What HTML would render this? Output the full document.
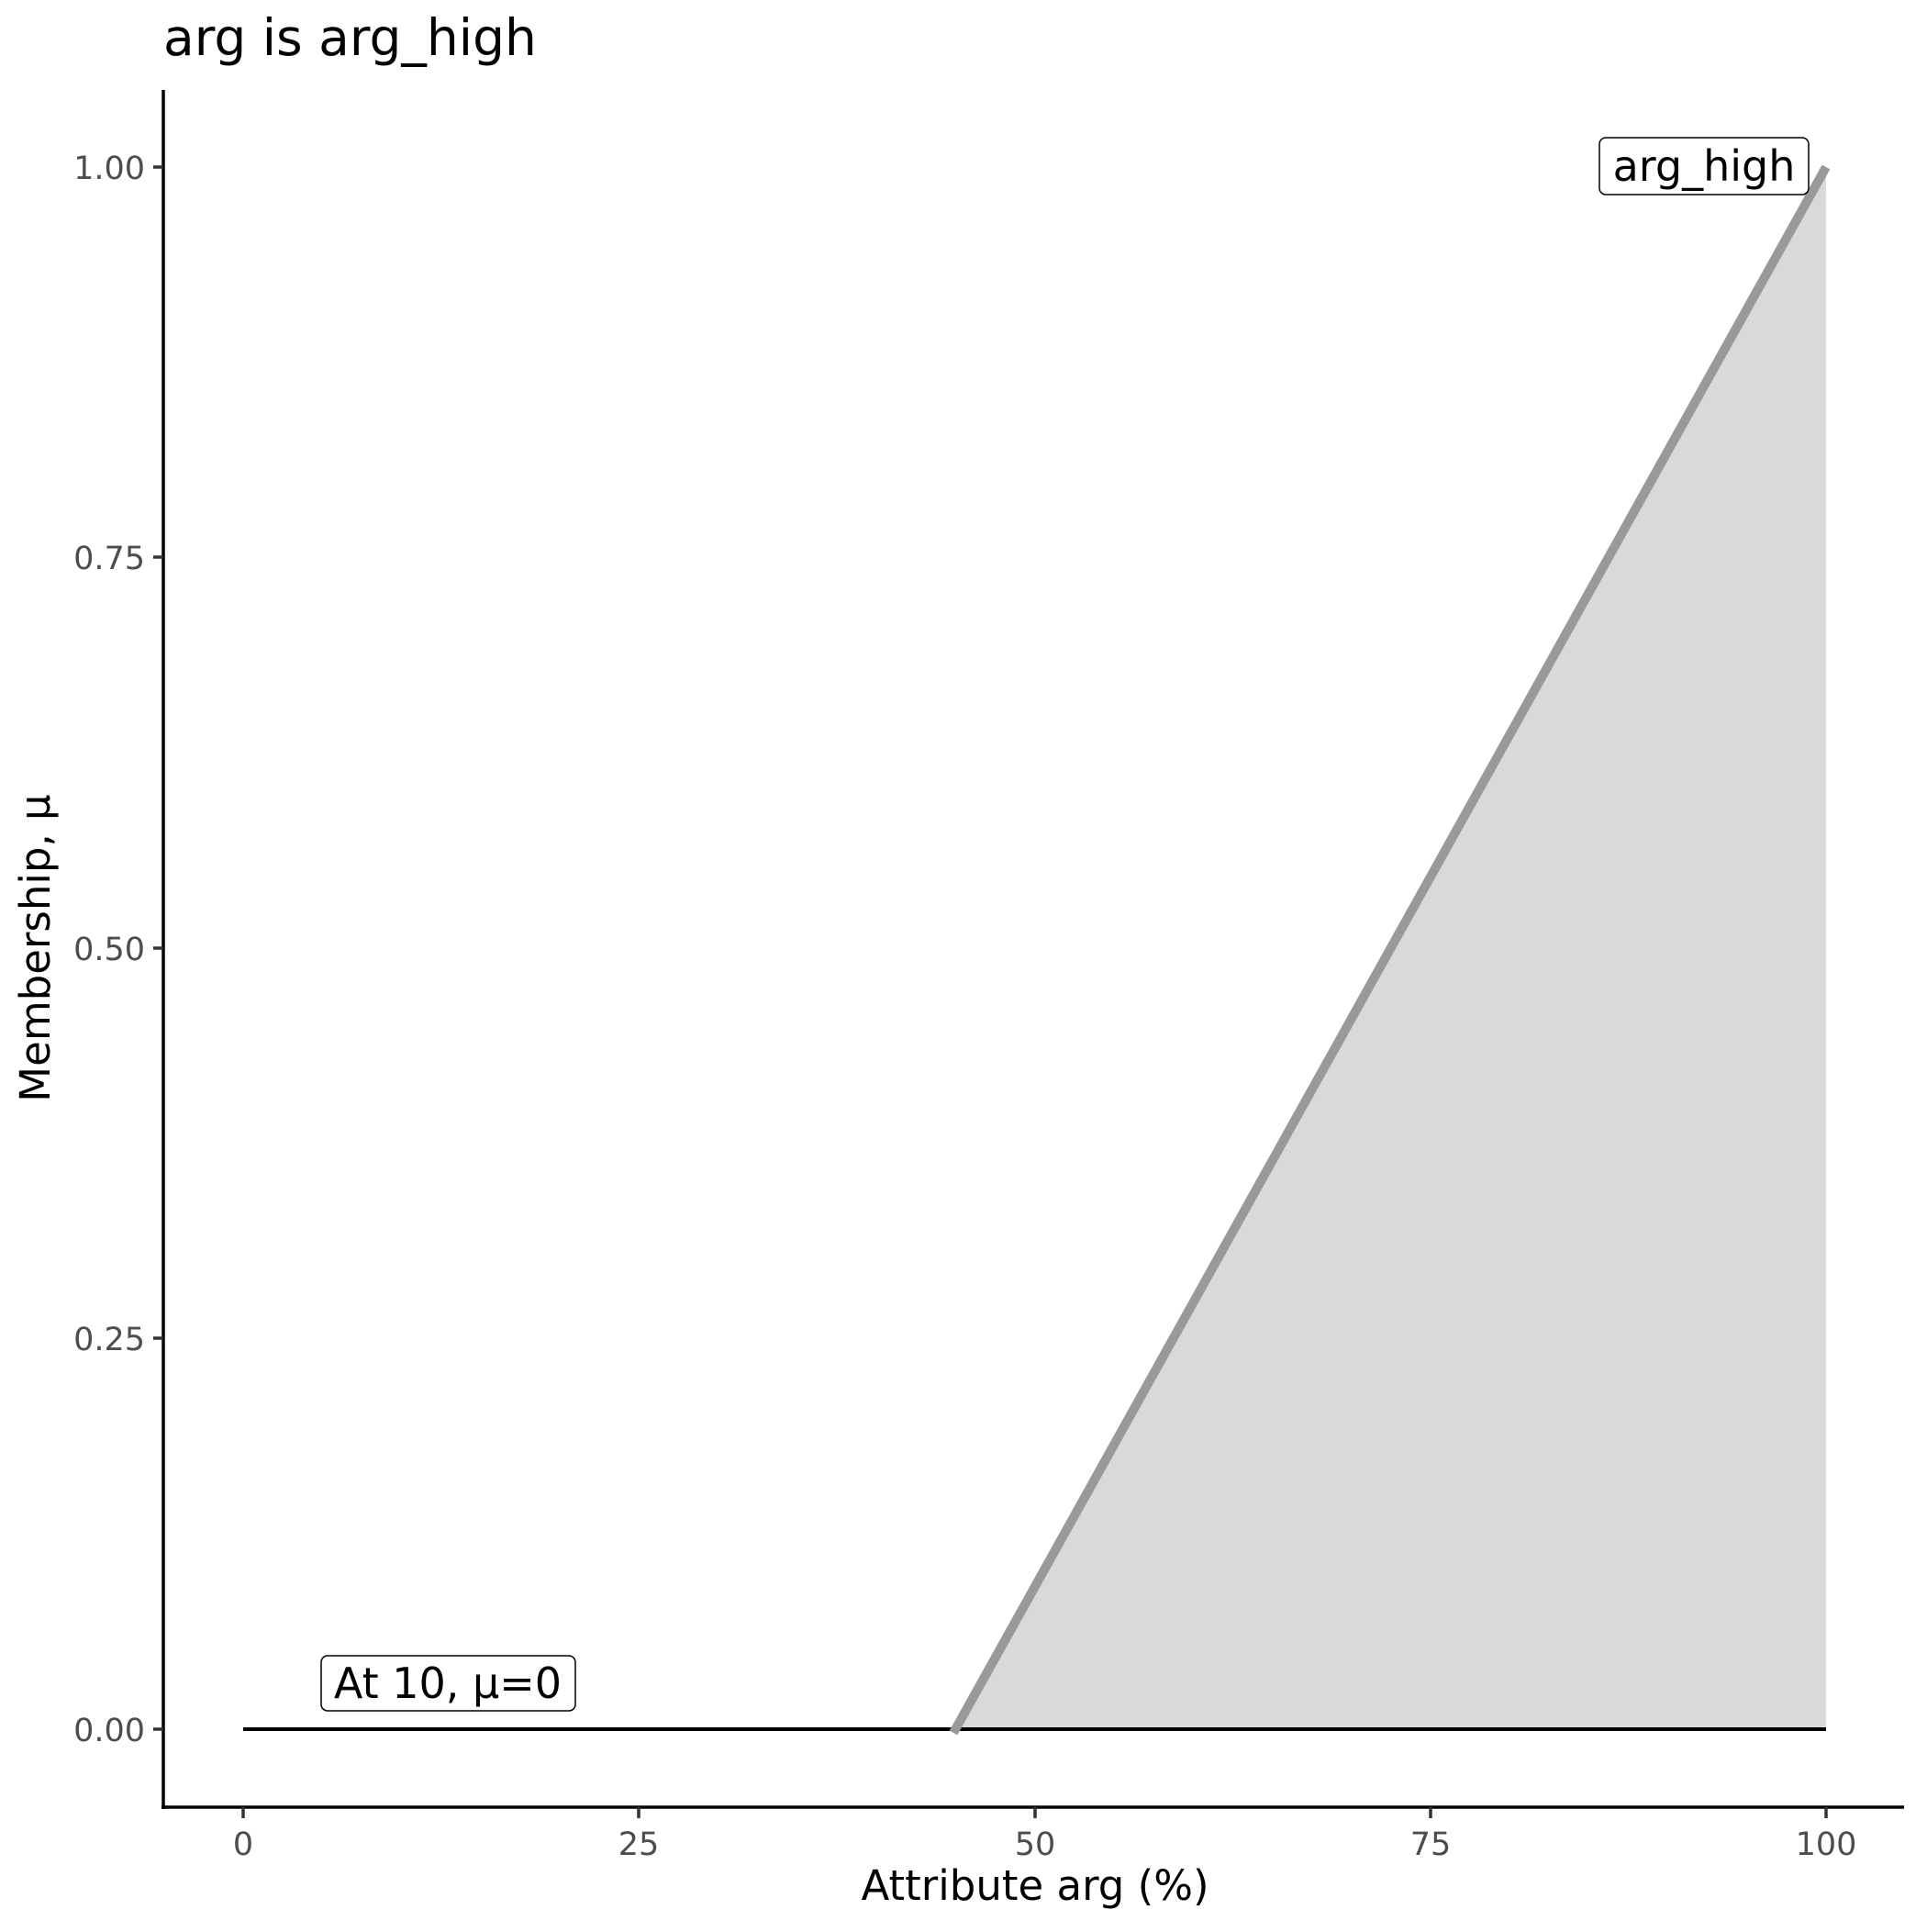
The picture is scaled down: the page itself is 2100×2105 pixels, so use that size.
<!DOCTYPE html>
<html><head><style>body{margin:0;background:#fff}</style></head><body>
<svg width="2100" height="2100" xmlns="http://www.w3.org/2000/svg" font-family="'DejaVu Sans','Liberation Sans',sans-serif">
<rect width="2100" height="2100" fill="#fff"/>
<text x="178" y="60" font-size="55">arg is arg_high</text>
<polygon points="1039,1884 1990,1884 1990,182" fill="#d9d9d9"/>
<line x1="265" y1="1884" x2="1990" y2="1884" stroke="#000" stroke-width="4"/>
<line x1="1039" y1="1888" x2="1990" y2="182" stroke="#999" stroke-width="10"/>
<rect x="1743" y="150" width="228" height="62" rx="7" fill="#fff" stroke="#000" stroke-width="1.5"/>
<text x="1857" y="197" font-size="46" text-anchor="middle">arg_high</text>
<rect x="350" y="1804" width="277" height="60" rx="7" fill="#fff" stroke="#000" stroke-width="1.5"/>
<text x="488" y="1850" font-size="46" text-anchor="middle">At 10, μ=0</text>
<line x1="178" y1="98" x2="178" y2="1971" stroke="#000" stroke-width="3.5"/>
<line x1="176" y1="1969" x2="2075" y2="1969" stroke="#000" stroke-width="3.5"/>
<g stroke="#333" stroke-width="3.5">
<line x1="167" y1="182" x2="178" y2="182"/><line x1="167" y1="607" x2="178" y2="607"/><line x1="167" y1="1033" x2="178" y2="1033"/><line x1="167" y1="1458" x2="178" y2="1458"/><line x1="167" y1="1884" x2="178" y2="1884"/>
<line x1="265" y1="1969" x2="265" y2="1981"/><line x1="696" y1="1969" x2="696" y2="1981"/><line x1="1128" y1="1969" x2="1128" y2="1981"/><line x1="1559" y1="1969" x2="1559" y2="1981"/><line x1="1990" y1="1969" x2="1990" y2="1981"/>
</g>
<g font-size="35" fill="#4d4d4d" text-anchor="end">
<text x="158" y="195">1.00</text><text x="158" y="620">0.75</text><text x="158" y="1046">0.50</text><text x="158" y="1471">0.25</text><text x="158" y="1897">0.00</text>
</g>
<g font-size="35" fill="#4d4d4d" text-anchor="middle">
<text x="265" y="2021">0</text><text x="696" y="2021">25</text><text x="1128" y="2021">50</text><text x="1559" y="2021">75</text><text x="1990" y="2021">100</text>
</g>
<text x="1128" y="2070" font-size="45" text-anchor="middle">Attribute arg (%)</text>
<text transform="translate(54,1033) rotate(-90)" font-size="45" text-anchor="middle">Membership, μ</text>
</svg>
</body></html>
